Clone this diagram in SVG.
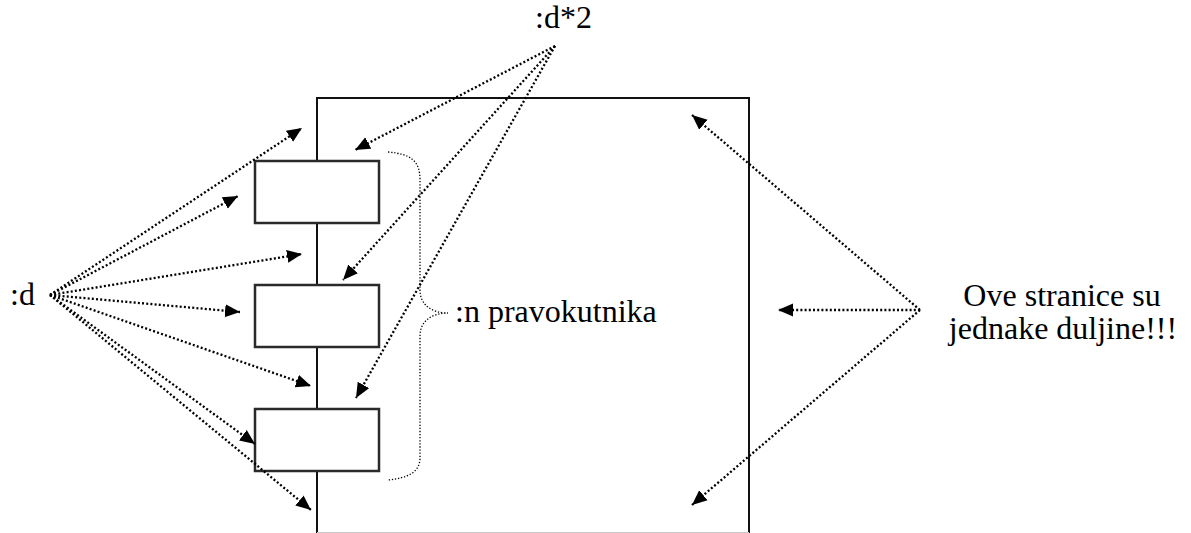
<svg xmlns="http://www.w3.org/2000/svg" width="1191" height="533" viewBox="0 0 1191 533">
<style>
text{font-family:'Liberation Serif','DejaVu Serif',serif;font-size:32px;fill:#000}
.box{fill:#fff;stroke:#2a2a2a;stroke-width:2.5}
.frame{fill:none;stroke:#111;stroke-width:2}
.dot{fill:none;stroke:#000;stroke-width:2.3;stroke-dasharray:2 2.2;marker-end:url(#ah)}
.brace{fill:none;stroke:#000;stroke-width:1.3;stroke-dasharray:1.3 1.8}
</style>
<defs>
<marker id="ah" markerUnits="userSpaceOnUse" markerWidth="16" markerHeight="14" refX="15" refY="6.5" orient="auto" viewBox="0 0 16 13">
<path d="M0,0 L15,6.5 L0,13 z" fill="#000"/>
</marker>
</defs>
<rect width="1191" height="533" fill="#fff"/>
<g id="frame">
<path class="frame" d="M317,533 L317,98 L749,98 L749,533"/>
<line x1="317" y1="532.5" x2="749" y2="532.5" stroke="#c8c8c8" stroke-width="1"/>
</g>
<g id="rect1"><rect class="box" x="255" y="161" width="124" height="62"/></g>
<g id="rect2"><rect class="box" x="255" y="285" width="124" height="62"/></g>
<g id="rect3"><rect class="box" x="255" y="409" width="124" height="62"/></g>
<g id="connectors">
<line class="dot" x1="50" y1="295" x2="302" y2="128"/>
<line class="dot" x1="50" y1="295" x2="238" y2="196"/>
<line class="dot" x1="50" y1="295" x2="302" y2="254"/>
<line class="dot" x1="50" y1="295" x2="240" y2="312"/>
<line class="dot" x1="50" y1="295" x2="311" y2="386"/>
<line class="dot" x1="50" y1="295" x2="255" y2="444"/>
<line class="dot" x1="50" y1="295" x2="311" y2="510"/>
<line class="dot" x1="555" y1="46" x2="355" y2="150"/>
<line class="dot" x1="555" y1="46" x2="343" y2="280"/>
<line class="dot" x1="555" y1="46" x2="356" y2="398"/>
<line class="dot" x1="920" y1="310" x2="692" y2="115"/>
<line class="dot" x1="920" y1="310" x2="778" y2="310"/>
<line class="dot" x1="920" y1="310" x2="692" y2="505"/>
</g>
<g id="brace">
<path class="brace" d="M388,152 C410,154 420,160 420,180 L420,290 C420,305 432,313 448,313 C432,313 420,321 420,336 L420,458 C420,472 408,478 388,480"/>
</g>
<g id="label-d"><text x="10" y="305" font-family="'Liberation Serif', serif">:d</text></g>
<g id="label-d2"><text x="535" y="28" font-family="'Liberation Serif', serif">:d*2</text></g>
<g id="label-n"><text x="455" y="322" font-family="'Liberation Serif', serif">:n pravokutnika</text></g>
<g id="label-sides">
<text x="1062" y="306" text-anchor="middle" font-family="'Liberation Serif', serif">Ove stranice su</text>
<text x="1063" y="339" text-anchor="middle" font-family="'Liberation Serif', serif">jednake duljine!!!</text>
</g>
</svg>
